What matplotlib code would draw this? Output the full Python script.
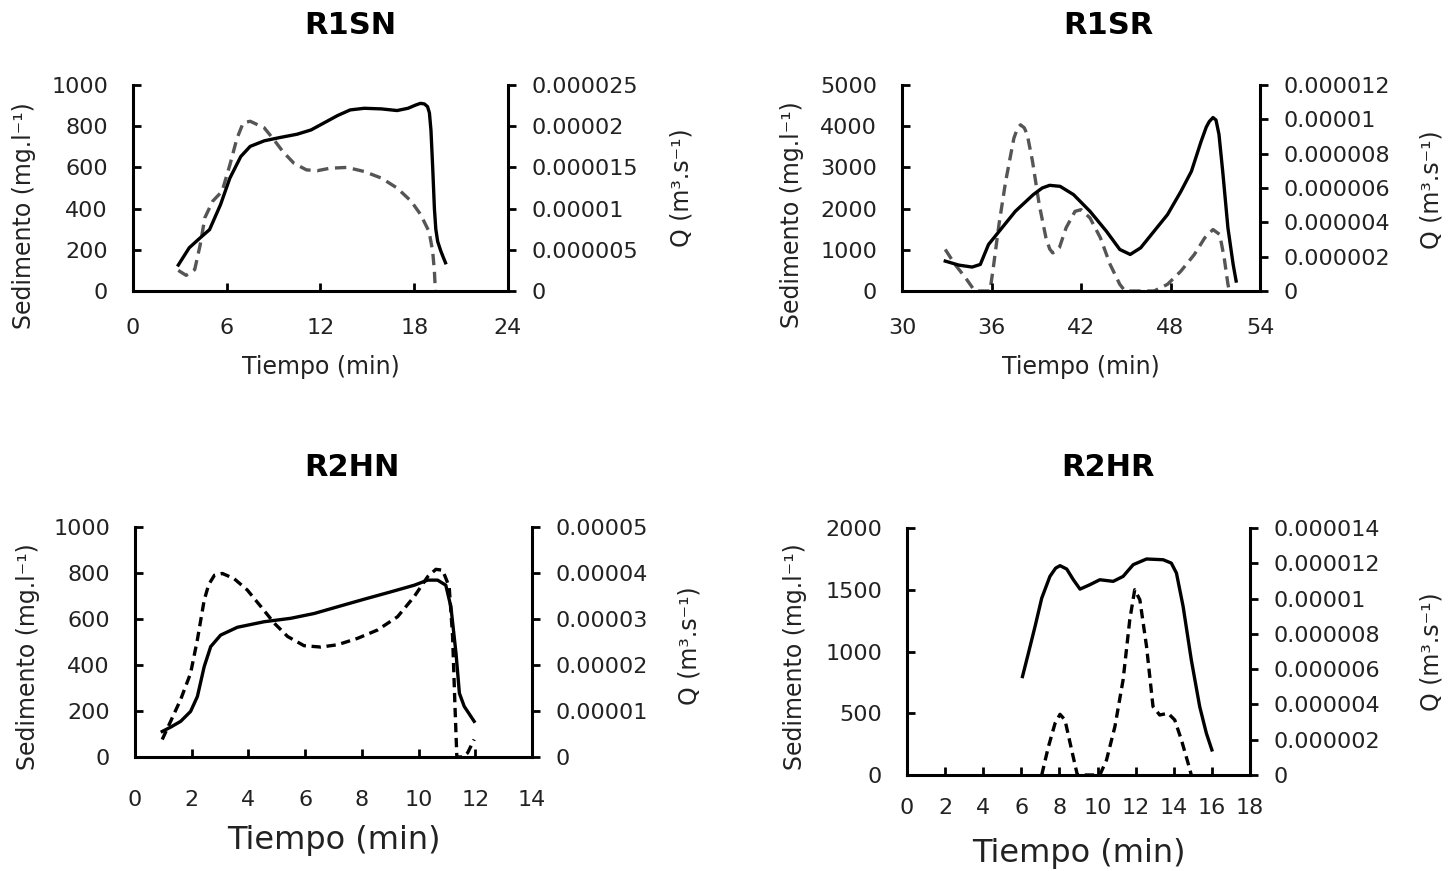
import matplotlib
matplotlib.use("Agg")
import matplotlib.pyplot as plt

plt.rcParams['font.family'] = ['DejaVu Sans']

# ---------------- data ----------------
# R1SN
r1sn_sed_t = [2.9, 3.6, 4.3, 4.9, 5.6, 6.2, 6.9, 7.5, 8.4, 9.4, 10.5, 11.4, 12.2, 13.1, 13.9,
              14.8, 15.9, 16.9, 17.6, 18.1, 18.4, 18.65, 18.85, 18.97, 19.07, 19.18, 19.29,
              19.38, 19.5, 19.7, 19.85, 20.0]
r1sn_sed = [126, 210, 258, 298, 419, 548, 653, 702, 729, 745, 761, 782, 815, 852, 879,
            887, 884, 876, 887, 903, 911, 908, 895, 865, 780, 600, 400, 300, 240, 194, 165, 137]
r1sn_q_t = [2.9, 3.4, 3.95, 4.3, 4.6, 5.1, 5.7, 6.2, 6.65, 7.05, 7.5, 8.4, 9.0, 9.6, 10.3,
            11.1, 11.8, 12.6, 13.7, 14.8, 15.9, 16.9, 17.8, 18.4, 18.95, 19.18, 19.29, 19.35]
r1sn_q = [2.5e-6, 1.9e-6, 2.6e-6, 5.6e-6, 8.9e-6, 1.09e-5, 1.21e-5, 1.53e-5, 1.85e-5, 2.04e-5,
          2.06e-5, 1.98e-5, 1.84e-5, 1.69e-5, 1.55e-5, 1.47e-5, 1.46e-5, 1.49e-5, 1.5e-5,
          1.45e-5, 1.37e-5, 1.25e-5, 1.09e-5, 9.3e-6, 7.2e-6, 4.8e-6, 2.4e-6, 0.0]

# R1SR
r1sr_sed_t = [32.9, 33.8, 34.7, 35.25, 35.8, 36.7, 37.6, 38.8, 39.4, 39.9, 40.6, 41.5, 42.6,
              43.7, 44.6, 45.3, 46.0, 46.9, 47.8, 48.7, 49.4, 50.05, 50.4, 50.6, 50.85, 51.05,
              51.25, 51.5, 51.85, 52.2, 52.4]
r1sr_sed = [726, 629, 581, 645, 1129, 1532, 1935, 2339, 2500, 2565, 2540, 2339, 1935, 1452,
            1008, 887, 1048, 1452, 1855, 2419, 2903, 3629, 3980, 4113, 4210, 4150, 3800, 2903,
            1532, 645, 242]
r1sr_q_t = [32.9, 33.55, 34.25, 34.8, 34.95, 35.9, 36.15, 36.5, 36.95, 37.5, 37.75, 37.95,
            38.2, 38.4, 38.75, 39.2, 39.65, 39.9, 40.1, 40.3, 40.55, 41.0, 41.6, 42.0, 42.6,
            43.3, 43.95, 44.6, 44.95, 46.9, 47.8, 48.7, 49.6, 50.3, 50.85, 51.3, 51.6, 51.85,
            51.95]
r1sr_q = [2.42e-6, 1.55e-6, 7.8e-7, 1.0e-7, 0.0, 0.0, 1.55e-6, 3.87e-6, 6.39e-6, 8.9e-6,
          9.5e-6, 9.68e-6, 9.5e-6, 9.1e-6, 7.55e-6, 5.03e-6, 3.1e-6, 2.45e-6, 2.22e-6, 2.3e-6,
          2.52e-6, 3.68e-6, 4.64e-6, 4.74e-6, 4.26e-6, 3.1e-6, 1.55e-6, 3.9e-7, 0.0, 0.0,
          3.9e-7, 1.16e-6, 2.13e-6, 3.1e-6, 3.58e-6, 3.29e-6, 1.93e-6, 3.9e-7, 0.0]

# R2HN
r2hn_sed_t = [0.96, 1.26, 1.61, 1.96, 2.2, 2.44, 2.67, 3.02, 3.61, 4.55, 5.49, 6.32, 7.14,
              8.08, 9.02, 9.85, 10.32, 10.67, 10.96, 11.14, 11.32, 11.44, 11.61, 11.96]
r2hn_sed = [111, 130, 155, 198, 263, 393, 480, 530, 564, 588, 603, 624, 653, 686, 718,
            747, 769, 769, 747, 653, 451, 277, 220, 155]
r2hn_q_t = [0.96, 1.26, 1.61, 1.96, 2.2, 2.44, 2.6, 2.8, 3.08, 3.49, 3.96, 4.44, 4.91, 5.38,
            5.96, 6.55, 7.14, 7.85, 8.55, 9.26, 9.85, 10.32, 10.61, 10.85, 11.08, 11.2,
            11.28, 11.35, 11.55, 11.73, 11.96]
r2hn_q = [3.8e-6, 7.8e-6, 1.25e-5, 1.82e-5, 2.55e-5, 3.41e-5, 3.75e-5, 3.95e-5, 3.99e-5,
          3.88e-5, 3.63e-5, 3.27e-5, 2.91e-5, 2.62e-5, 2.42e-5, 2.39e-5, 2.44e-5, 2.58e-5,
          2.76e-5, 3.05e-5, 3.49e-5, 3.92e-5, 4.08e-5, 4.06e-5, 3.7e-5, 2.62e-5, 1.17e-5,
          0.0, 0.0, 9e-7, 3.8e-6]

# R2HR
r2hr_sed_t = [6.06, 6.37, 6.72, 7.07, 7.5, 7.8, 8.03, 8.38, 8.73, 9.08, 9.6, 10.12, 10.82,
              11.34, 11.87, 12.57, 13.44, 13.87, 14.14, 14.49, 14.92, 15.36, 15.71, 16.0]
r2hr_sed = [797, 986, 1203, 1432, 1608, 1675, 1695, 1668, 1581, 1505, 1541, 1581, 1568,
            1608, 1703, 1749, 1743, 1716, 1635, 1365, 932, 554, 338, 203]
r2hr_q_t = [7.07, 7.42, 7.77, 8.03, 8.29, 8.64, 8.94, 10.12, 10.47, 10.91, 11.34, 11.69,
            11.95, 12.22, 12.57, 12.91, 13.26, 13.7, 14.05, 14.4, 14.75, 14.92]
r2hr_q = [0.0, 1.6e-6, 2.93e-6, 3.44e-6, 3.12e-6, 1.42e-6, 0.0, 0.0, 8.5e-7, 2.74e-6,
          5.39e-6, 8.8e-6, 1.05e-5, 9.93e-6, 7.29e-6, 3.88e-6, 3.4e-6, 3.5e-6, 3.12e-6,
          1.99e-6, 6.7e-7, 0.0]

titles = ["R1SN", "R1SR", "R2HN", "R2HR"]
sed_label = "Sedimento (mg.l⁻¹)"
q_label = "Q (m³.s⁻¹)"
x_label = "Tiempo (min)"

r1sn_xticks = [0, 6, 12, 18, 24]
r1sr_xticks = [30, 36, 42, 48, 54]
r2hn_xticks = [0, 2, 4, 6, 8, 10, 12, 14]
r2hr_xticks = [0, 2, 4, 6, 8, 10, 12, 14, 16, 18]

r1sn_yticks = [0, 200, 400, 600, 800, 1000]
r1sr_yticks = [0, 1000, 2000, 3000, 4000, 5000]
r2hn_yticks = [0, 200, 400, 600, 800, 1000]
r2hr_yticks = [0, 500, 1000, 1500, 2000]

r1sn_qtick_labels = ["0", "0.000005", "0.00001", "0.000015", "0.00002", "0.000025"]
r1sr_qtick_labels = ["0", "0.000002", "0.000004", "0.000006", "0.000008", "0.00001", "0.000012"]
r2hn_qtick_labels = ["0", "0.00001", "0.00002", "0.00003", "0.00004", "0.00005"]
r2hr_qtick_labels = ["0", "0.000002", "0.000004", "0.000006", "0.000008", "0.00001",
                     "0.000012", "0.000014"]

# ---------------- layout ----------------
W, H = 1453, 871
fig = plt.figure(figsize=(W / 100, H / 100), dpi=100)


def rect(l, r, t, b):
    return [l / W, 1 - b / H, (r - l) / W, (b - t) / H]


panels = [
    dict(name=titles[0], box=(133, 508, 85, 291), xt=r1sn_xticks, yt=r1sn_yticks,
         ql=r1sn_qtick_labels, st=r1sn_sed_t, s=r1sn_sed, qt=r1sn_q_t, q=r1sn_q,
         qcol="#555555", dash=(3.4, 2.0), tpos=(350, 25), lab_l=(24, 216), lab_r=(682, 188),
         xlab_y=367, xlab_fs=17, xtl_y=328),
    dict(name=titles[1], box=(902, 1260, 85, 291), xt=r1sr_xticks, yt=r1sr_yticks,
         ql=r1sr_qtick_labels, st=r1sr_sed_t, s=r1sr_sed, qt=r1sr_q_t, q=r1sr_q,
         qcol="#555555", dash=(3.4, 2.0), tpos=(1108, 25), lab_l=(792, 215),
         lab_r=(1432, 190), xlab_y=367, xlab_fs=17, xtl_y=328),
    dict(name=titles[2], box=(135, 532, 527, 757), xt=r2hn_xticks, yt=r2hn_yticks,
         ql=r2hn_qtick_labels, st=r2hn_sed_t, s=r2hn_sed, qt=r2hn_q_t, q=r2hn_q,
         qcol="black", dash=(2.8, 1.7), tpos=(352, 467), lab_l=(28, 657), lab_r=(690, 646),
         xlab_y=840, xlab_fs=23, xtl_y=800),
    dict(name=titles[3], box=(907, 1250, 528, 775), xt=r2hr_xticks, yt=r2hr_yticks,
         ql=r2hr_qtick_labels, st=r2hr_sed_t, s=r2hr_sed, qt=r2hr_q_t, q=r2hr_q,
         qcol="black", dash=(2.8, 1.7), tpos=(1108, 467), lab_l=(795, 657),
         lab_r=(1432, 652), xlab_y=853, xlab_fs=23, xtl_y=808),
]

FS = 16
LAB = 17
TXT = "#222222"
for p in panels:
    l, r, t, b = p["box"]
    ax = fig.add_axes(rect(l, r, t, b))
    ax2 = ax.twinx()
    ax.set_zorder(ax2.get_zorder() + 1)
    ax.patch.set_visible(False)

    xt = p["xt"]
    ax.set_xlim(xt[0], xt[-1])
    ax.set_ylim(p["yt"][0], p["yt"][-1])
    ax.set_xticks(xt)
    ax.set_yticks(p["yt"])
    qvals = [float(v) for v in p["ql"]]
    ax2.set_ylim(0, qvals[-1])
    ax2.set_yticks(qvals)
    ax2.set_yticklabels(p["ql"])

    ax2.plot(p["qt"], p["q"], color=p["qcol"], lw=2.4, dashes=p["dash"],
             dash_capstyle="butt", dash_joinstyle="round")
    ax.plot(p["st"], p["s"], color="black", lw=2.4, solid_joinstyle="round")

    for a in (ax, ax2):
        a.spines["top"].set_visible(False)
    ax.spines["right"].set_visible(False)
    ax2.spines["left"].set_visible(False)
    ax2.spines["bottom"].set_visible(False)
    for sp in ("left", "bottom"):
        ax.spines[sp].set_linewidth(2.2)
        ax.spines[sp].set_zorder(5)
    ax2.spines["right"].set_linewidth(2.2)

    xpad = (p["xtl_y"] - b) / 1.389 - 7
    ax.tick_params(axis="x", direction="in", length=6, width=2, labelsize=FS, pad=xpad,
                   labelcolor=TXT)
    ax.tick_params(axis="y", direction="in", length=6, width=2, labelsize=FS, pad=18,
                   labelcolor=TXT)
    ax2.tick_params(axis="y", direction="out", length=6, width=2, labelsize=FS, pad=11,
                    labelcolor=TXT)

    ax.set_xlabel(x_label, fontsize=p["xlab_fs"], color=TXT)
    ax.xaxis.set_label_coords(0.5, (b - p["xlab_y"]) / (b - t))
    ax.xaxis.label.set_va("center")
    ax.set_ylabel(sed_label, fontsize=LAB, color=TXT)
    ax.yaxis.set_label_coords((p["lab_l"][0] - l) / (r - l), (b - p["lab_l"][1]) / (b - t))
    ax.yaxis.label.set_va("center")
    ax2.set_ylabel(q_label, fontsize=LAB, color=TXT)
    ax2.yaxis.set_label_coords((p["lab_r"][0] - l) / (r - l), (b - p["lab_r"][1]) / (b - t))
    ax2.yaxis.label.set_va("center")

    tx, ty = p["tpos"]
    fig.text(tx / W, 1 - ty / H, p["name"], ha="center", va="center", fontsize=22,
             fontweight="bold")

fig.savefig("out.png", dpi=100, facecolor="white")
